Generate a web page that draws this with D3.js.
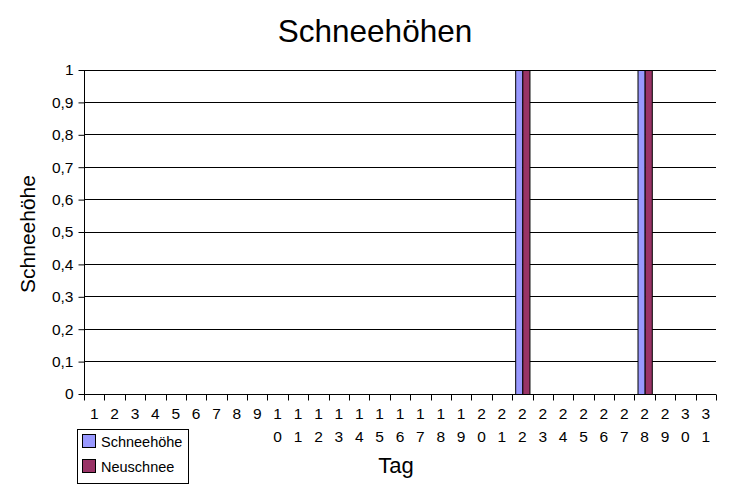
<!DOCTYPE html>
<html><head><meta charset="utf-8">
<script src="https://cdn.jsdelivr.net/npm/d3@7"></script>
<style>body{margin:0;background:#fff;} text{font-family:"Liberation Sans",Arial,sans-serif;}</style>
</head><body>
<svg id="c" width="750" height="494"></svg>
<script>
const days = d3.range(1, 32).map(String);
const schneehoehe = days.map(d => (d === "22" || d === "28") ? 1 : 0);
const neuschnee = days.map(d => (d === "22" || d === "28") ? 1 : 0);
const seriesNames = ["Schneehöhe", "Neuschnee"];
const seriesColors = ["#9999ff", "#993366"];
const yTicks = [0,0.1,0.2,0.3,0.4,0.5,0.6,0.7,0.8,0.9,1];

const svg = d3.select("#c");
const m = {l: 84, r: 716, t: 70, b: 394};
const x = d3.scaleBand().domain(days).range([m.l, m.r]).paddingInner(0.3).paddingOuter(0.15);
const xOuter = d3.scaleBand().domain(days).range([m.l, m.r]);
const y = d3.scaleLinear().domain([0, 1]).range([m.b, m.t]);
const xs = d3.scaleBand().domain(seriesNames).range([0, x.bandwidth()]);

// gridlines
svg.append("g").selectAll("line").data(yTicks).join("line")
  .attr("x1", m.l).attr("x2", m.r).attr("y1", d => y(d)).attr("y2", d => y(d))
  .attr("stroke", "#000").attr("stroke-width", 1).attr("shape-rendering", "crispEdges");

// bars
const series = [schneehoehe, neuschnee];
series.forEach((vals, si) => {
  svg.append("g").selectAll("rect").data(days.map((d, i) => ({d, v: vals[i]})).filter(o => o.v > 0)).join("rect")
    .attr("x", o => x(o.d) + xs(seriesNames[si]) + 0.5)
    .attr("y", o => y(o.v) + 0.5)
    .attr("width", xs.bandwidth())
    .attr("height", o => y(0) - y(o.v))
    .attr("fill", seriesColors[si]).attr("stroke", "#000").attr("stroke-width", 1);
});

// y axis
const ya = svg.append("g").attr("transform", `translate(${m.l+0.5},0)`)
  .call(d3.axisLeft(y).tickValues(yTicks).tickSize(6).tickFormat(d => d3.format("")(d).replace(".", ",")));
ya.select(".domain").attr("stroke", "#000").attr("d", `M0,${m.t}V${m.b}`);
ya.selectAll(".tick line").attr("stroke", "#000");
ya.selectAll(".tick text").attr("font-size", 15.5).attr("font-family", "Liberation Sans, Arial, sans-serif").attr("fill", "#000").attr("x", -11);

// x axis
const xa = svg.append("g").attr("transform", `translate(0,${m.b+0.5})`);
xa.append("line").attr("x1", m.l).attr("x2", m.r).attr("stroke", "#000");
const bounds = days.map(d => xOuter(d)).concat([m.r]);
xa.selectAll("line.t").data(bounds).join("line").attr("class", "t")
  .attr("x1", d => Math.round(d) + 0.5).attr("x2", d => Math.round(d) + 0.5).attr("y1", 0).attr("y2", 6).attr("stroke", "#000");
const lab = xa.selectAll("text").data(days).join("text")
  .attr("text-anchor", "middle").attr("font-size", 15.5).attr("fill", "#000")
  .attr("transform", d => `translate(${xOuter(d) + xOuter.bandwidth()/2},0)`);
lab.each(function(d) {
  const t = d3.select(this);
  d.split("").forEach((ch, i) => t.append("tspan").attr("x", 0).attr("y", 24.5 + i * 23).text(ch));
});

// titles
svg.append("text").attr("x", 375).attr("y", 42).attr("text-anchor", "middle").attr("font-size", 31.5).text("Schneehöhen");
svg.append("text").attr("transform", `translate(35,234) rotate(-90)`).attr("text-anchor", "middle").attr("font-size", 21).text("Schneehöhe");
svg.append("text").attr("x", 396).attr("y", 473).attr("text-anchor", "middle").attr("font-size", 22).text("Tag");

// legend
const lg = svg.append("g");
lg.append("rect").attr("x", 77.5).attr("y", 429.5).attr("width", 111).attr("height", 54).attr("fill", "#fff").attr("stroke", "#000");
seriesNames.forEach((n, i) => {
  lg.append("rect").attr("x", 82.5).attr("y", 434.5 + i * 25).attr("width", 13).attr("height", 13)
    .attr("fill", seriesColors[i]).attr("stroke", "#000");
  lg.append("text").attr("x", 101).attr("y", 447 + i * 25).attr("font-size", 14.5).text(n);
});
</script>
</body></html>
